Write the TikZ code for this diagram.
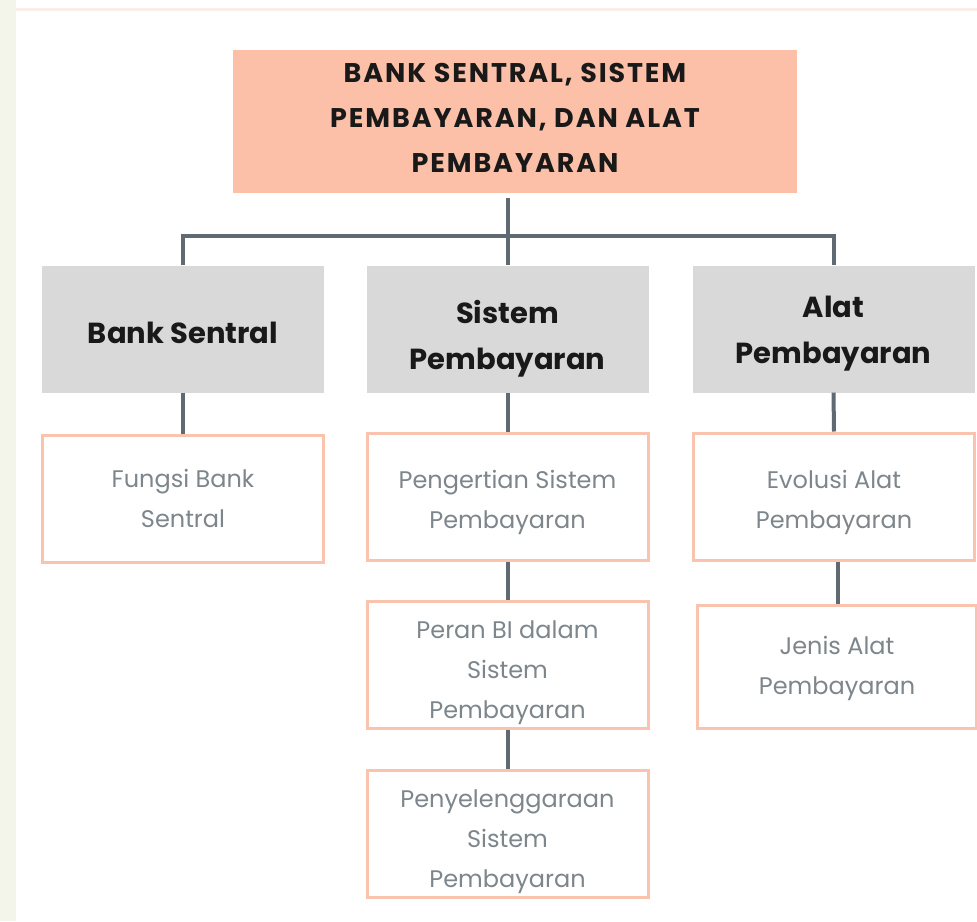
\documentclass[tikz,border=0pt]{standalone}
\usepackage{fontspec}
\setmainfont{Poppins}
\definecolor{salmon}{HTML}{FCC0A8}
\definecolor{peach}{HTML}{F9C3AE}
\definecolor{boxgray}{HTML}{D9D9D9}
\definecolor{conncol}{HTML}{5F6A72}
\definecolor{bodytext}{HTML}{7D868C}
\definecolor{strip}{HTML}{F3F5EA}
\definecolor{topline}{HTML}{FCEDEA}
\tikzset{
  toptext/.style={align=center, inner sep=0pt, font=\fontsize{27}{45}\selectfont\bfseries\addfontfeatures{LetterSpace=7}, text=black!90},
  headtext/.style={align=center, inner sep=0pt, font=\fontsize{29}{46}\selectfont\bfseries, text=black!90},
  bodytxt/.style={align=center, inner sep=0pt, font=\fontsize{24}{40}\selectfont, text=bodytext},
  topbox/.style={fill=salmon, inner sep=0pt, minimum width=564pt, minimum height=143pt},
  graybox/.style={fill=boxgray, inner sep=0pt, minimum width=282pt, minimum height=127pt},
  whitebox/.style={draw=peach, line width=3pt, fill=white, inner sep=0pt, minimum width=281pt,
    minimum height=127pt},
  conn/.style={draw=conncol, line width=4pt}
}
\begin{document}
\begin{tikzpicture}[x=1pt,y=-1pt]
\useasboundingbox (0,0) rectangle (977,921);
\fill[white] (0,0) rectangle (977,921);
\fill[strip] (0,0) rectangle (16,921);
\fill[topline] (16,8) rectangle (977,11);

\node[topbox, label={[toptext, yshift=4pt]center:{BANK SENTRAL, SISTEM\\PEMBAYARAN, DAN ALAT\\PEMBAYARAN}}] (top) at (515,121.5) {};

\node[graybox, label={[headtext, yshift=-4pt]center:{Bank Sentral}}] (g1) at (183,329) {};
\node[graybox, label={[headtext, yshift=-10pt]center:{Sistem\\Pembayaran}}] (g2) at (507.5,329) {};
\node[graybox, label={[headtext, yshift=-5pt]center:{Alat\\Pembayaran}}] (g3) at (833.5,329) {};

\node[whitebox, label={[bodytxt, yshift=0pt]center:{Fungsi Bank\\Sentral}}] (f1) at (183,498.5) {};
\node[whitebox, label={[bodytxt, yshift=-6pt]center:{Pengertian Sistem\\Pembayaran}}] (s1) at (507.5,496.5) {};
\node[whitebox, label={[bodytxt, yshift=-8pt]center:{Peran BI dalam\\Sistem\\Pembayaran}}] (s2) at (507.5,664.5) {};
\node[whitebox, label={[bodytxt, yshift=-8pt]center:{Penyelenggaraan\\Sistem\\Pembayaran}}] (s3) at (507.5,833.5) {};
\node[whitebox, label={[bodytxt, yshift=-6pt]center:{Evolusi Alat\\Pembayaran}}] (a1) at (834,496.5) {};
\node[whitebox, minimum height=123pt, minimum width=279pt, label={[bodytxt, yshift=-2pt]center:{Jenis Alat\\Pembayaran}}] (a2) at (837,666.5) {};

\coordinate (bus) at (0,236);
\draw[conn] ([yshift=-5pt]g2.north |- top.south) -- (g2.north);
\draw[conn] (g1.north) |- (g2.north |- bus) -| (g3.north);
\draw[conn] (g1.south) -- (f1.north);
\draw[conn] (g2.south) -- (s1.north);
\draw[conn] (s1.south) -- (s2.north);
\draw[conn] (s2.south) -- (s3.north);
\draw[conn] (g3.south) -- (a1.north);
\draw[conn] ([xshift=4pt]a1.south) -- ([xshift=1pt]a2.north);
\end{tikzpicture}
\end{document}
